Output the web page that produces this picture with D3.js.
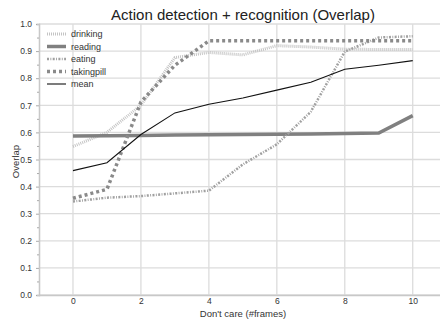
<!DOCTYPE html>
<html>
<head>
<meta charset="utf-8">
<script src="https://cdn.jsdelivr.net/npm/d3@7"></script>
<style>
  body { margin: 0; background: #fff; }
  svg { display: block; font-family: "Liberation Sans", Arial, sans-serif; }
</style>
</head>
<body>
<svg id="chart" width="440" height="320"></svg>
<script>
// frames (x) shared by every series
const frames = [0, 1, 2, 3, 4, 5, 6, 7, 8, 9, 10];
const drinking   = [0.548, 0.600, 0.700, 0.876, 0.895, 0.886, 0.920, 0.915, 0.907, 0.906, 0.906];
const reading    = [0.587, 0.588, 0.589, 0.590, 0.591, 0.592, 0.593, 0.594, 0.596, 0.598, 0.662];
const eating     = [0.345, 0.359, 0.365, 0.375, 0.385, 0.482, 0.556, 0.676, 0.898, 0.950, 0.955];
const takingpill = [0.357, 0.390, 0.712, 0.848, 0.938, 0.938, 0.938, 0.938, 0.938, 0.938, 0.938];
const mean       = [0.459, 0.488, 0.592, 0.672, 0.704, 0.727, 0.756, 0.785, 0.833, 0.848, 0.865];

const seriesNames = ['drinking', 'reading', 'eating', 'takingpill', 'mean'];
const seriesValues = [drinking, reading, eating, takingpill, mean];
const yTicks = [0.0, 0.1, 0.2, 0.3, 0.4, 0.5, 0.6, 0.7, 0.8, 0.9, 1.0];
const xTicks = [0, 2, 4, 6, 8, 10];

const styles = [
  { color: '#c4c4c4', width: 3,   dash: '1,1' },
  { color: '#808080', width: 3.5, dash: null },
  { color: '#a0a0a0', width: 2.5, dash: '2,1.4,0.9,1.4' },
  { color: '#8a8a8a', width: 3.5, dash: '3,3' },
  { color: '#111111', width: 1.1, dash: null },
];

const svg = d3.select('#chart');
const plotLeft = 39, plotTop = 24, plotBottom = 295;
const x = d3.scaleLinear().domain([-1, 11]).range([plotLeft, 446.7]);
const y = d3.scaleLinear().domain([0, 1]).range([plotBottom, plotTop]);

// grid
const grid = svg.append('g');
grid.selectAll('line.gx')
  .data(xTicks)
  .join('line')
  .attr('x1', d => x(d)).attr('x2', d => x(d))
  .attr('y1', plotTop).attr('y2', plotBottom)
  .attr('stroke', '#dcdcdc').attr('stroke-width', 1.3);
grid.selectAll('line.gy')
  .data(yTicks)
  .join('line')
  .attr('x1', plotLeft).attr('x2', 440)
  .attr('y1', d => y(d)).attr('y2', d => y(d))
  .attr('stroke', '#dcdcdc').attr('stroke-width', 1.3);

// y axis with minor ticks
svg.append('g')
  .attr('transform', `translate(${plotLeft},0)`)
  .call(d3.axisLeft(y).tickValues(yTicks).tickFormat(d3.format('.1f')).tickSize(3).tickPadding(4));
svg.append('g')
  .attr('transform', `translate(${plotLeft},0)`)
  .call(d3.axisLeft(y).tickValues(d3.range(0.05, 1, 0.1)).tickFormat('').tickSize(2));

// x axis
svg.append('g')
  .attr('transform', `translate(0,${plotBottom})`)
  .call(d3.axisBottom(x).tickValues(xTicks).tickSize(0).tickPadding(3));

svg.selectAll('.domain').attr('stroke', '#c8c8c8').attr('stroke-width', 1.3);
svg.selectAll('.tick line').attr('stroke', '#aaa');
svg.selectAll('.tick text').attr('font-size', 8.5).attr('fill', '#333')
  .attr('font-family', '"Liberation Sans", Arial, sans-serif');

// lines
const line = d3.line()
  .x((d, i) => x(frames[i]))
  .y(d => y(d));

seriesValues.forEach((vals, i) => {
  const s = styles[i];
  svg.append('path')
    .datum(vals)
    .attr('fill', 'none')
    .attr('stroke', s.color)
    .attr('stroke-width', s.width)
    .attr('stroke-dasharray', s.dash)
    .attr('d', line);
});

// legend
const legend = svg.append('g').attr('transform', 'translate(47,34)');
seriesNames.forEach((name, i) => {
  const s = styles[i];
  const g = legend.append('g').attr('transform', `translate(0,${i * 12.5})`);
  g.append('line')
    .attr('x1', 0).attr('x2', 19)
    .attr('stroke', s.color)
    .attr('stroke-width', s.width)
    .attr('stroke-dasharray', s.dash);
  g.append('text')
    .attr('x', 24).attr('y', 3.3)
    .attr('font-size', 9)
    .attr('fill', '#333')
    .text(name);
});

// title and axis labels
svg.append('text')
  .attr('x', 243).attr('y', 20)
  .attr('text-anchor', 'middle')
  .attr('font-size', 15)
  .attr('fill', '#222')
  .text('Action detection + recognition (Overlap)');

svg.append('text')
  .attr('x', 243).attr('y', 317)
  .attr('text-anchor', 'middle')
  .attr('font-size', 9.5)
  .attr('fill', '#333')
  .text("Don't care (#frames)");

svg.append('text')
  .attr('transform', `translate(19,${(plotTop + plotBottom) / 2 + 2}) rotate(-90)`)
  .attr('text-anchor', 'middle')
  .attr('font-size', 9.5)
  .attr('fill', '#333')
  .text('Overlap');
</script>
</body>
</html>
